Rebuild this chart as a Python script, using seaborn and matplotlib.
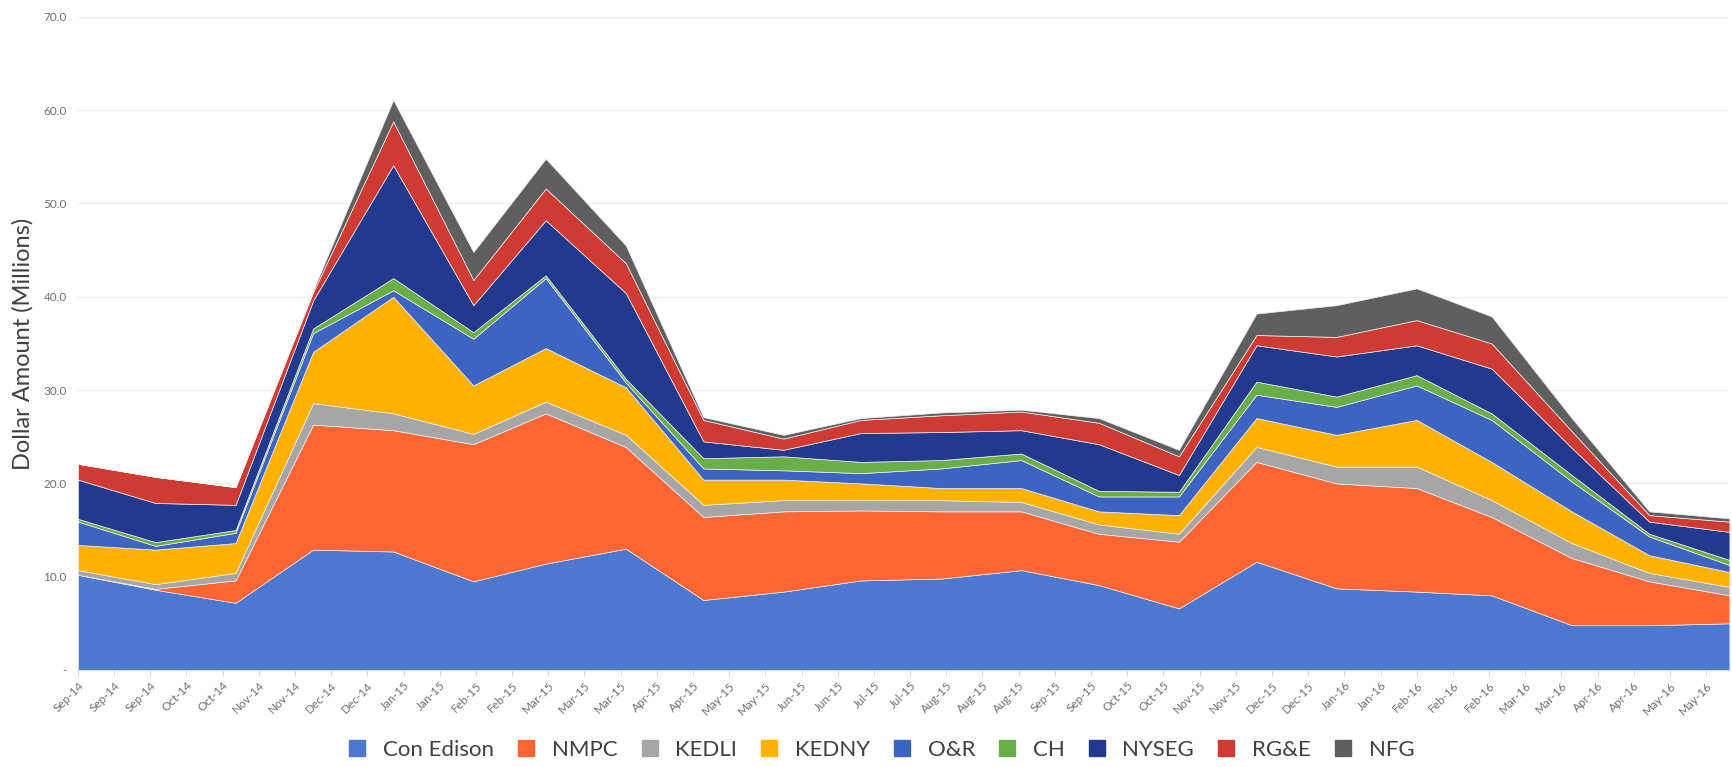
import numpy as np
import pandas as pd
import matplotlib
matplotlib.use("Agg")
import matplotlib.pyplot as plt
import matplotlib.dates as mdates
from matplotlib.lines import Line2D
import seaborn as sns

# monthly data points (first of month)
months = ["2014-09-01", "2014-10-01", "2014-11-01", "2014-12-01", "2015-01-01", "2015-02-01",
          "2015-03-01", "2015-04-01", "2015-05-01", "2015-06-01", "2015-07-01", "2015-08-01",
          "2015-09-01", "2015-10-01", "2015-11-01", "2015-12-01", "2016-01-01", "2016-02-01",
          "2016-03-01", "2016-04-01", "2016-05-01", "2016-06-01"]

con_edison = [10.2, 8.6, 7.2, 12.9, 12.7, 9.5, 11.4, 13.0, 7.5, 8.4, 9.6, 9.8, 10.7, 9.1, 6.6, 11.6, 8.75, 8.4, 8.0, 4.8, 4.8, 5.0]
nmpc = [0.0, 0.1, 2.4, 13.4, 13.0, 14.7, 16.1, 10.9, 8.9, 8.6, 7.5, 7.2, 6.3, 5.5, 7.15, 10.7, 11.25, 11.1, 8.4, 7.2, 4.7, 3.0]
kedli = [0.5, 0.5, 0.8, 2.3, 1.8, 1.1, 1.25, 1.3, 1.3, 1.2, 1.1, 1.2, 1.0, 1.0, 0.85, 1.6, 1.8, 2.3, 1.8, 1.6, 0.9, 0.9]
kedny = [2.7, 3.7, 3.2, 5.5, 12.5, 5.2, 5.75, 5.1, 2.7, 2.2, 1.8, 1.3, 1.5, 1.4, 2.0, 3.1, 3.4, 5.0, 4.1, 3.4, 1.9, 1.6]
o_r = [2.5, 0.4, 1.1, 2.0, 0.7, 5.0, 7.5, 0.5, 1.2, 1.0, 1.1, 2.1, 3.0, 1.6, 2.0, 2.5, 3.0, 3.7, 4.5, 3.2, 2.0, 0.75]
ch = [0.3, 0.4, 0.3, 0.5, 1.3, 0.7, 0.3, 0.4, 1.1, 1.5, 1.2, 0.9, 0.7, 0.6, 0.5, 1.4, 1.1, 1.1, 0.7, 0.7, 0.3, 0.55]
nyseg = [4.2, 4.2, 2.7, 3.0, 12.1, 2.9, 5.9, 9.2, 1.8, 0.7, 3.1, 3.0, 2.5, 5.0, 1.8, 3.9, 4.3, 3.2, 4.8, 2.9, 1.3, 3.0]
rge = [1.7, 2.8, 1.9, 0.9, 4.7, 2.7, 3.4, 3.2, 2.3, 1.2, 1.4, 1.8, 2.0, 2.3, 2.0, 1.1, 2.1, 2.7, 2.7, 1.8, 0.7, 1.1]
nfg = [0.0, 0.0, 0.0, 0.2, 2.3, 3.0, 3.2, 1.9, 0.3, 0.4, 0.2, 0.3, 0.2, 0.5, 0.7, 2.3, 3.4, 3.4, 2.9, 1.4, 0.4, 0.35]

series_names = ["Con Edison", "NMPC", "KEDLI", "KEDNY", "O&R", "CH", "NYSEG", "RG&E", "NFG"]
colors = ["#4c78d0", "#ff6535", "#a6a6a6", "#ffb300", "#3e64c2", "#6aae48", "#22398e", "#cf3b33", "#5f5f5f"]

# date-axis tick labels (every 14 days starting Sep 1, 2014)
tick_labels = ["Sep-14", "Sep-14", "Sep-14", "Oct-14", "Oct-14", "Nov-14", "Nov-14", "Dec-14", "Dec-14",
               "Jan-15", "Jan-15", "Feb-15", "Feb-15", "Mar-15", "Mar-15", "Mar-15", "Apr-15", "Apr-15",
               "May-15", "May-15", "Jun-15", "Jun-15", "Jul-15", "Jul-15", "Aug-15", "Aug-15", "Aug-15",
               "Sep-15", "Sep-15", "Oct-15", "Oct-15", "Nov-15", "Nov-15", "Dec-15", "Dec-15",
               "Jan-16", "Jan-16", "Feb-16", "Feb-16", "Feb-16", "Mar-16", "Mar-16", "Apr-16", "Apr-16",
               "May-16", "May-16"]

df = pd.DataFrame({"date": pd.to_datetime(months)})
for name, vals in zip(series_names, [con_edison, nmpc, kedli, kedny, o_r, ch, nyseg, rge, nfg]):
    df[name] = vals

sns.set_style("white")
plt.rcParams["font.family"] = ["Lato", "DejaVu Sans"]

fig = plt.figure(figsize=(17.32, 7.67), dpi=100)
ax = fig.add_axes([0.045, 0.1265, 0.9535, 0.8515])

ax.stackplot(df["date"], *[df[n] for n in series_names], colors=colors,
             edgecolor="#eeeeee", linewidth=0.5, zorder=2)

ax.set_ylim(0, 70)
ax.set_yticks(np.arange(0, 71, 10))
ax.set_yticklabels(["-"] + [f"{v:.1f}" for v in range(10, 71, 10)], fontsize=8.5, color="#6f6f6f")
ax.yaxis.grid(True, color="#f0f0f0", linewidth=0.9, zorder=0)
ax.set_axisbelow(True)

start = pd.Timestamp("2014-09-01")
tick_pos = [start + pd.Timedelta(days=14 * i) for i in range(len(tick_labels))]
ax.set_xlim(start, pd.Timestamp("2016-06-01"))
ax.set_xticks(mdates.date2num(tick_pos))
ax.set_xticklabels(tick_labels, rotation=45, ha="right", rotation_mode="anchor",
                   fontsize=8.5, color="#6f6f6f")
ax.tick_params(axis="x", which="major", bottom=True, length=4, color="#d9d9d9", pad=3)
ax.tick_params(axis="y", length=0, pad=8)

for s in ["top", "right", "left"]:
    ax.spines[s].set_visible(False)
ax.spines["bottom"].set_color("#d9d9d9")

ax.set_ylabel("Dollar Amount (Millions)", fontsize=17, color="#404040")
ax.yaxis.set_label_coords(-0.027, 0.5)

handles = [Line2D([0], [0], marker="s", linestyle="none", markersize=11,
                  markerfacecolor=c, markeredgecolor=c) for c in colors]
fig.legend(handles, series_names, loc="center", bbox_to_anchor=(0.505, 0.022), ncol=9,
           frameon=False, fontsize=16, handletextpad=0.15, columnspacing=0.45,
           labelcolor="#404040")

fig.savefig("out.png", dpi=100)
